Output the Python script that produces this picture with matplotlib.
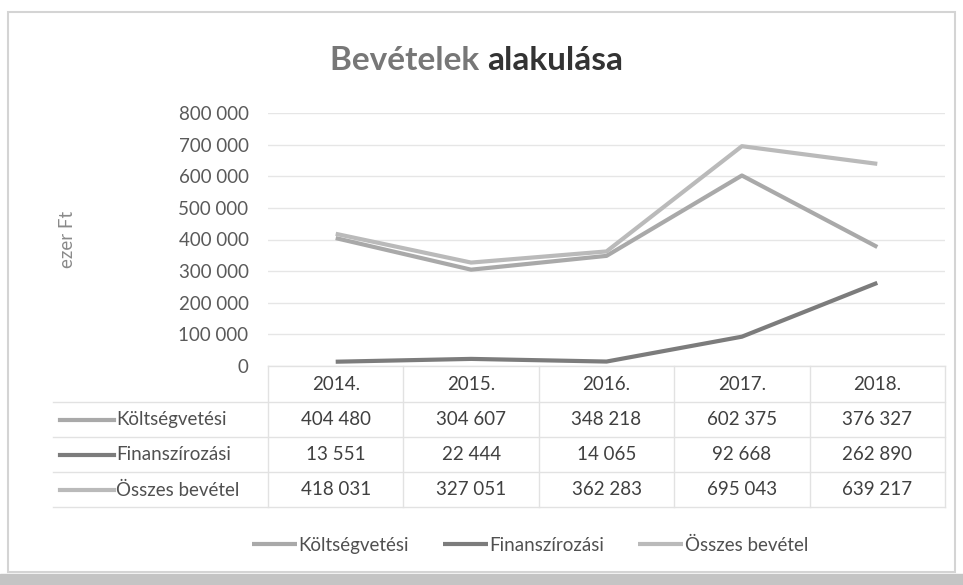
import matplotlib.pyplot as plt
from matplotlib.patches import Rectangle
from matplotlib.lines import Line2D

plt.rcParams["font.family"] = ["Lato", "DejaVu Sans"]

years = ["2014.", "2015.", "2016.", "2017.", "2018."]
series_names = ["Költségvetési", "Finanszírozási", "Összes bevétel"]
koltsegvetesi = [404480, 304607, 348218, 602375, 376327]
finanszirozasi = [13551, 22444, 14065, 92668, 262890]
osszes = [418031, 327051, 362283, 695043, 639217]
series_colors = ["#a9a9a9", "#7c7c7c", "#bababa"]
y_ticks = [0, 100000, 200000, 300000, 400000, 500000, 600000, 700000, 800000]

FS = 13.5


def fmt(v):
    return f"{v:,}".replace(",", " ")


fig = plt.figure(figsize=(9.63, 5.85), dpi=100)
fig.patches.append(Rectangle((8 / 963, 1 - 572 / 585), 947 / 963, 560 / 585,
                             transform=fig.transFigure, fill=False,
                             edgecolor="#d4d4d4", linewidth=1.5))
fig.patches.append(Rectangle((0, 0), 1, 1 - 574 / 585,
                             transform=fig.transFigure, color="#c4c4c4"))

ax = fig.add_axes([268 / 963, 1 - 366 / 585, 677 / 963, 253 / 585])
x = list(range(len(years)))
all_series = [koltsegvetesi, finanszirozasi, osszes]
for name, vals, c in zip(series_names, all_series, series_colors):
    ax.plot(x, vals, color=c, linewidth=3, solid_capstyle="butt", label=name)

ax.set_xlim(-0.5, len(years) - 0.5)
ax.set_ylim(0, 800000)
ax.set_yticks(y_ticks, labels=[fmt(t) for t in y_ticks])
ax.set_xticks([])
ax.tick_params(axis="y", length=0, pad=14, labelsize=FS, labelcolor="#5a5a5a")
ax.grid(axis="y", color="#e6e6e6", linewidth=1)
ax.set_axisbelow(True)
for s in ax.spines.values():
    s.set_visible(False)
ax.set_ylabel("ezer Ft", color="#8a8a8a", fontsize=FS, labelpad=74)

# data table below the plot
grid_c = "#e2e2e2"
row_h = 35 / 253
header_y = -0.075
row_ys = [header_y - row_h * (i + 1) for i in range(len(series_names))]
bottom = row_ys[-1] - row_h / 2
left_frac = (53 - 268) / 677
tr = ax.get_xaxis_transform()
for b in [i - 0.5 for i in range(len(years) + 1)]:
    ax.add_line(Line2D([b, b], [0, bottom], transform=tr, color=grid_c,
                       linewidth=1, clip_on=False))
for yy in [0, header_y - row_h / 2] + [ry - row_h / 2 for ry in row_ys]:
    x0 = 0 if yy == 0 else left_frac
    ax.add_line(Line2D([x0, 1], [yy, yy], transform=ax.transAxes, color=grid_c,
                       linewidth=1, clip_on=False))
for i, yr in enumerate(years):
    ax.text(i, header_y, yr, transform=tr, ha="center", va="center",
            fontsize=FS, color="#404040")
for r, (name, vals, c) in enumerate(zip(series_names, all_series, series_colors)):
    ry = row_ys[r]
    ax.add_line(Line2D([(60 - 268) / 677, (114 - 268) / 677], [ry, ry],
                       transform=ax.transAxes, color=c, linewidth=3,
                       clip_on=False))
    ax.text((116 - 268) / 677, ry, name, transform=ax.transAxes, ha="left",
            va="center", fontsize=FS, color="#505050")
    for i, v in enumerate(vals):
        ax.text(i, ry, fmt(v), transform=tr, ha="center", va="center",
                fontsize=FS, color="#404040")

# title in two shades
t1 = fig.text(0.5 + 6 / 963, 1 - 60 / 585, "Bevételek ", ha="right",
              va="center", fontsize=24, color="#777777", fontweight="bold")
ax.annotate("alakulása", xy=(1, 0), xycoords=t1, va="bottom", ha="left",
            fontsize=24, color="#333333", fontweight="bold",
            annotation_clip=False)

fig.legend(loc="center", bbox_to_anchor=(530 / 963, 1 - 545 / 585), ncol=3,
           frameon=False, fontsize=FS, handlelength=2.4, handletextpad=0.1,
           columnspacing=1.8, labelcolor="#505050")

fig.savefig("out.png", dpi=100)
